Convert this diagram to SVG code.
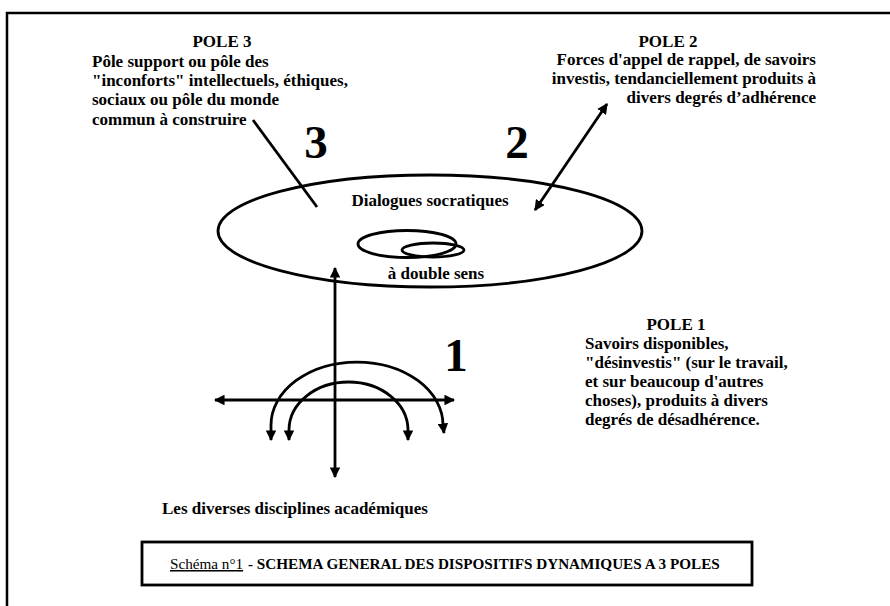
<svg xmlns="http://www.w3.org/2000/svg" width="890" height="606" viewBox="0 0 890 606">
<defs>
<style>
.t{font-family:"Liberation Serif","Times New Roman",serif;font-weight:bold;font-size:17px;fill:#000}
.big{font-family:"Liberation Serif","Times New Roman",serif;font-weight:bold;font-size:47px;fill:#000}
.ln{fill:none;stroke:#000;stroke-width:2.8}
.cap{font-family:"Liberation Serif","Times New Roman",serif;font-size:15.2px;fill:#000}
</style>
<marker id="ah" viewBox="0 0 10 10" refX="9" refY="5" markerWidth="3.8" markerHeight="3.8" orient="auto-start-reverse" markerUnits="strokeWidth">
<path d="M0,0 L10,5 L0,10 z" fill="#000"/>
</marker>
</defs>
<rect width="890" height="606" fill="#fff"/>
<path d="M7,606 V13 H890" fill="none" stroke="#000" stroke-width="2.5"/>

<g id="pole3">
<text class="t" x="222" y="47" text-anchor="middle">POLE 3</text>
<text class="t" x="92" y="67">Pôle support ou pôle des</text>
<text class="t" x="92" y="86">"inconforts" intellectuels, éthiques,</text>
<text class="t" x="92" y="105">sociaux ou pôle du monde</text>
<text class="t" x="92" y="125">commun à construire</text>
<text class="big" x="316" y="158" text-anchor="middle">3</text>
</g>

<g id="pole2">
<text class="t" x="668" y="47" text-anchor="middle">POLE 2</text>
<text class="t" x="816" y="65" text-anchor="end">Forces d'appel de rappel, de savoirs</text>
<text class="t" x="816" y="84" text-anchor="end">investis, tendanciellement produits à</text>
<text class="t" x="816" y="103" text-anchor="end">divers degrés d’adhérence</text>
<text class="big" x="517" y="158" text-anchor="middle">2</text>
</g>

<g id="dialogues">
<ellipse class="ln" cx="430" cy="231" rx="212" ry="56"/>
<text class="t" x="430" y="206" text-anchor="middle">Dialogues socratiques</text>
<ellipse class="ln" cx="407" cy="244" rx="49" ry="13.5"/>
<ellipse class="ln" cx="433" cy="250" rx="31" ry="7"/>
<text class="t" x="436" y="279" text-anchor="middle">à double sens</text>
</g>

<g id="pole1">
<text class="big" x="456" y="371" text-anchor="middle">1</text>
<text class="t" x="676" y="330" text-anchor="middle">POLE 1</text>
<text class="t" x="585" y="349">Savoirs disponibles,</text>
<text class="t" x="585" y="368">"désinvestis" (sur le travail,</text>
<text class="t" x="585" y="387">et sur beaucoup d'autres</text>
<text class="t" x="585" y="406">choses), produits à divers</text>
<text class="t" x="585" y="425">degrés de désadhérence.</text>
</g>

<g id="disciplines">
<text class="t" x="162" y="514">Les diverses disciplines académiques</text>
</g>

<g id="caption">
<rect x="142" y="542" width="610" height="43" fill="none" stroke="#000" stroke-width="2.8"/>
<text class="cap" x="170" y="569" text-decoration="underline">Schéma n°1</text>
<text class="cap" x="248" y="569" font-weight="bold">- SCHEMA GENERAL DES DISPOSITIFS DYNAMIQUES A 3 POLES</text>
</g>

<g id="connectors">
<line class="ln" x1="253" y1="120" x2="317" y2="207"/>
<line class="ln" x1="607" y1="104" x2="535" y2="210" marker-start="url(#ah)" marker-end="url(#ah)"/>
<line class="ln" x1="335" y1="268" x2="335" y2="477" marker-start="url(#ah)" marker-end="url(#ah)"/>
<line class="ln" x1="215" y1="400" x2="454" y2="400" marker-start="url(#ah)" marker-end="url(#ah)"/>
<path class="ln" d="M271,440 V425 A86,63 0 0 1 443,425 L444,433" marker-start="url(#ah)" marker-end="url(#ah)"/>
<path class="ln" d="M289,440 V430 A59.5,48 0 0 1 408,430 V440" marker-start="url(#ah)" marker-end="url(#ah)"/>
</g>
</svg>
